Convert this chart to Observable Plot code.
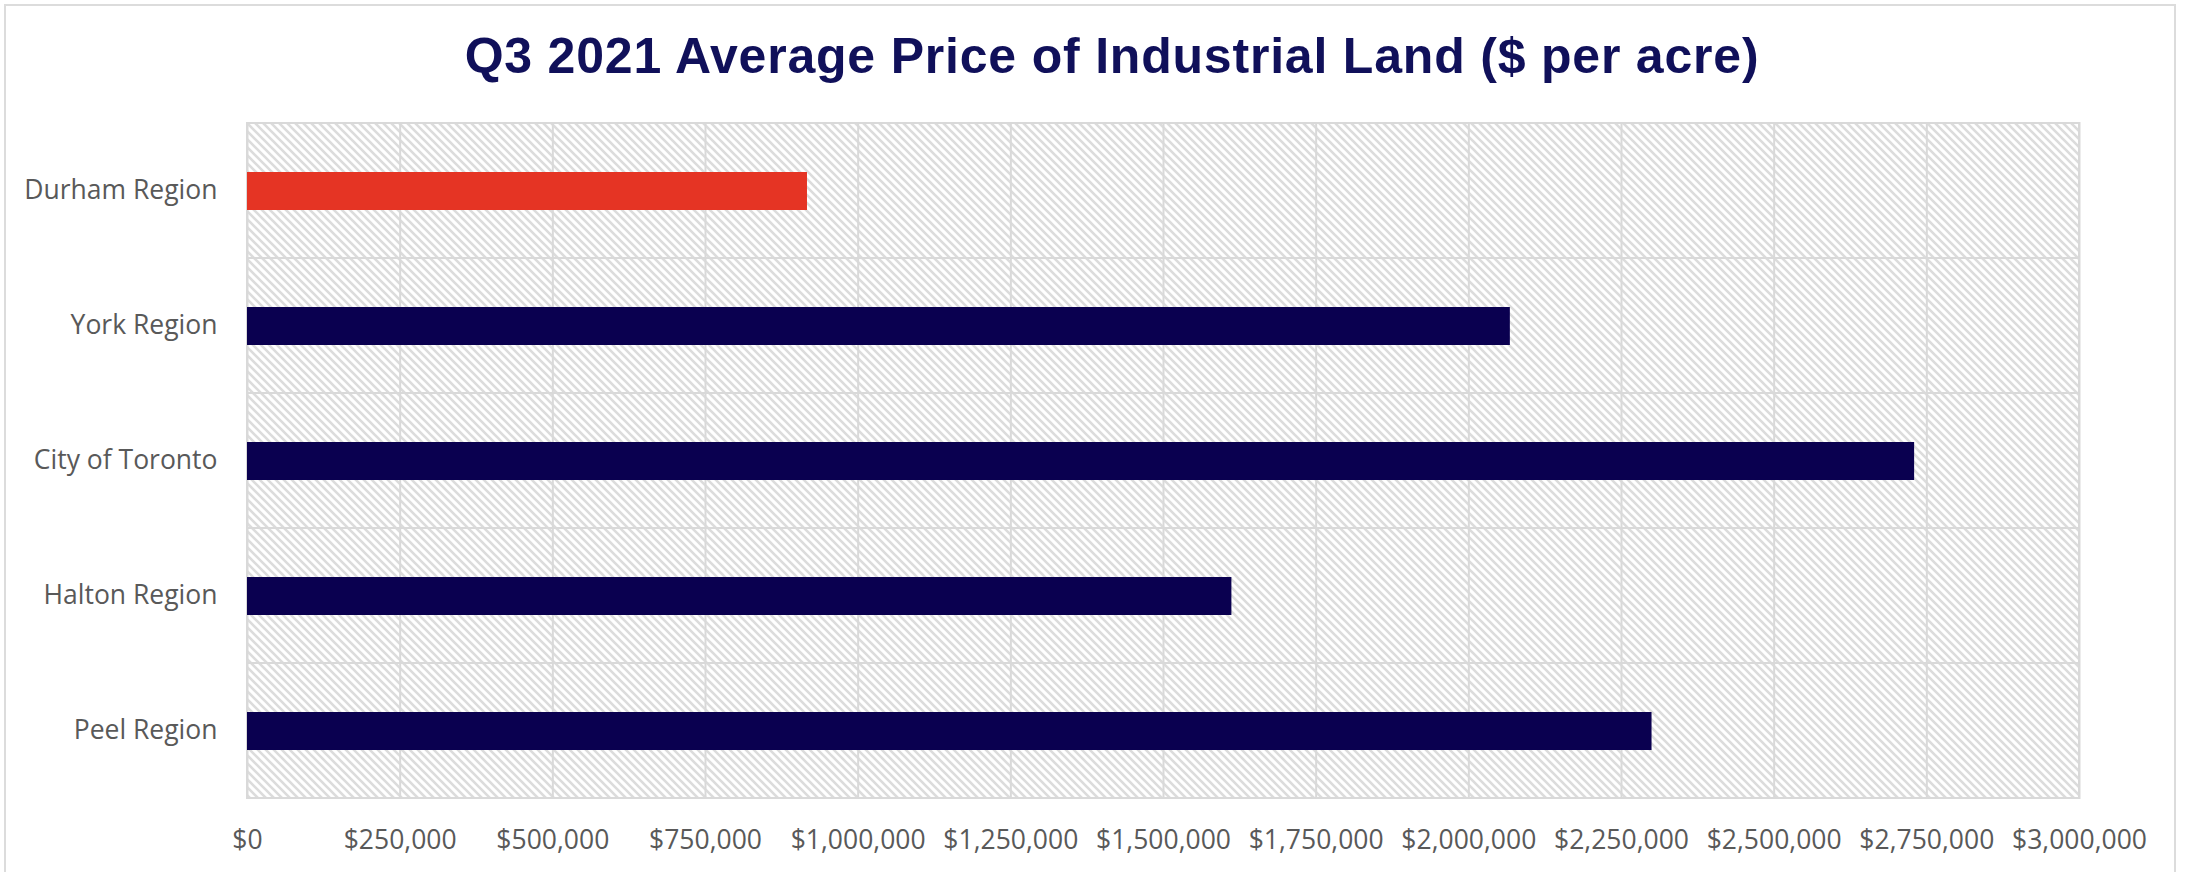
<!DOCTYPE html>
<html>
<head>
<meta charset="utf-8">
<script src="https://cdn.jsdelivr.net/npm/d3@7"></script>
<script src="https://cdn.jsdelivr.net/npm/@observablehq/plot@0.6"></script>
<style>
  html, body { margin: 0; padding: 0; background: #fff; width: 2188px; height: 872px; overflow: hidden; }
  #frame { position: absolute; left: 4px; top: 4px; width: 2172px; height: 900px; border: 2px solid #dcdcdc; box-sizing: border-box; }
  #title { position: absolute; left: 0; top: 0; width: 2188px; height: 100px; box-sizing: border-box; padding-left: 36px; padding-top: 31px;
           text-align: center; font-family: "Liberation Sans", Arial, sans-serif; font-weight: bold; font-size: 50px; letter-spacing: 0.8px; color: #10105a; line-height: 50px; white-space: nowrap; }
  #chart { position: absolute; left: 0; top: 100px; }
</style>
</head>
<body>
<div id="frame"></div>
<div id="title">Q3 2021 Average Price of Industrial Land ($ per acre)</div>
<div id="chart"></div>
<script>
const regions = ["Durham Region", "York Region", "City of Toronto", "Halton Region", "Peel Region"];
const prices = [917000, 2068000, 2730000, 1612000, 2300000];
const xTicks = [0, 250000, 500000, 750000, 1000000, 1250000, 1500000, 1750000, 2000000, 2250000, 2500000, 2750000, 3000000];
const highlighted = "Durham Region";

const data = regions.map((region, i) => ({region, price: prices[i]}));
const navy = "#0a0050";
const red = "#e53424";
const grid = "#d9d9d9";

const svg = Plot.plot({
  width: 2188,
  height: 772,
  marginTop: 22,
  marginBottom: 73,
  marginLeft: 247,
  marginRight: 109,
  style: {fontFamily: "'Open Sans', sans-serif", fontSize: "26.5px", color: "#595959", background: "transparent"},
  x: {domain: [0, 3000000], ticks: xTicks, tickFormat: d3.format("$,"), label: null},
  y: {domain: regions, padding: 0, label: null},
  marks: [
    Plot.barX(regions, {y: d => d, x1: 0, x2: 3000000, fill: "url(#hatch)", stroke: grid, strokeWidth: 2}),
    Plot.gridX(xTicks, {stroke: grid, strokeOpacity: 1, strokeWidth: 2}),
    Plot.barX(data, {y: "region", x: "price", fill: d => d.region === highlighted ? red : navy, insetTop: 49, insetBottom: 48}),
    Plot.axisX(xTicks, {tickSize: 0, tickPadding: 31, tickFormat: d3.format("$,"), fill: "#595959", fontSize: 26.5}),
    Plot.axisY({tickSize: 0, tickPadding: 30, fill: "#595959", fontSize: 26.5})
  ]
});

const ns = "http://www.w3.org/2000/svg";
const defs = document.createElementNS(ns, "defs");
const pattern = document.createElementNS(ns, "pattern");
pattern.setAttribute("id", "hatch");
pattern.setAttribute("patternUnits", "userSpaceOnUse");
pattern.setAttribute("width", "8");
pattern.setAttribute("height", "8");
const bg = document.createElementNS(ns, "rect");
bg.setAttribute("width", "8");
bg.setAttribute("height", "8");
bg.setAttribute("fill", "#ffffff");
pattern.appendChild(bg);
const path = document.createElementNS(ns, "path");
path.setAttribute("d", "M-2,-2L10,10M-2,6L2,10M6,-2L10,2");
path.setAttribute("stroke", "#dcdcdc");
path.setAttribute("stroke-width", "2.6");
pattern.appendChild(path);
defs.appendChild(pattern);
svg.insertBefore(defs, svg.firstChild);

document.getElementById("chart").appendChild(svg);
</script>
</body>
</html>
